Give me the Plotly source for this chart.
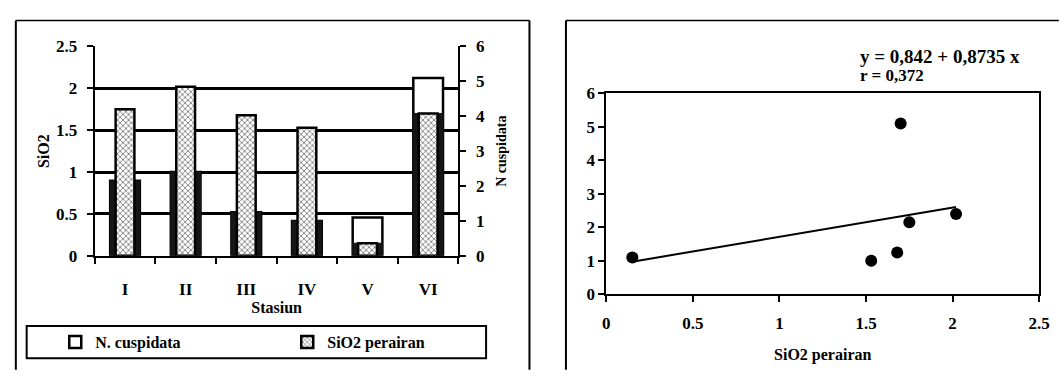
import numpy as np
import plotly.graph_objects as go

# ---------------- data ----------------
stations = ["I", "II", "III", "IV", "V", "VI"]
sio2 = [1.75, 2.02, 1.68, 1.53, 0.15, 1.70]          # SiO2 perairan (left axis)
n_cusp = [2.15, 2.40, 1.25, 1.00, 1.10, 5.10]        # N. cuspidata (right axis)
sio2_ticks = [0, 0.5, 1, 1.5, 2, 2.5]
sio2_ticklabels = ["0", "0.5", "1", "1.5", "2", "2.5"]
n_ticks = [0, 1, 2, 3, 4, 5, 6]
x2_ticks = [0, 0.5, 1, 1.5, 2, 2.5]
x2_ticklabels = ["0", "0.5", "1", "1.5", "2", "2.5"]
intercept = 0.842
slope = 0.8735
r_value = 0.372

SIO2_MAX = 2.5
N_MAX = 6

W, H = 1061, 374


def px(x):
    return x / W


def py(y):
    return 1 - y / H


FONT = dict(family="Liberation Serif", color="black", size=17, weight="bold")

# overlap zone where the N. cuspidata bar lies behind the SiO2 bar (dark in scan)
overlap = np.minimum(np.array(n_cusp), np.array(sio2) * N_MAX / SIO2_MAX)

fig = go.Figure()

fig.add_trace(go.Bar(
    x=stations, y=n_cusp, name="N. cuspidata", xaxis="x", yaxis="y",
    width=0.49, marker=dict(color="white", line=dict(color="black", width=2.5)),
))
fig.add_trace(go.Bar(
    x=stations, y=overlap, showlegend=False, xaxis="x", yaxis="y",
    width=0.49, marker=dict(color="#161616", line=dict(color="#161616", width=1)),
    hoverinfo="skip",
))
fig.add_trace(go.Bar(
    x=stations, y=sio2, name="SiO2 perairan", xaxis="x", yaxis="y2",
    width=0.31,
    marker=dict(color="white",
                pattern=dict(shape="x", fgcolor="black", bgcolor="white", size=4, solidity=0.4),
                line=dict(color="black", width=2.5)),
))

# scatter panel
fig.add_trace(go.Scatter(
    x=sio2, y=n_cusp, mode="markers", xaxis="x2", yaxis="y3", showlegend=False,
    marker=dict(color="black", size=12),
))
fit_x = np.array([min(sio2), max(sio2)])
fit_y = intercept + slope * fit_x
fig.add_trace(go.Scatter(
    x=fit_x, y=fit_y, mode="lines", xaxis="x2", yaxis="y3", showlegend=False,
    line=dict(color="black", width=2),
))

axis_common = dict(showline=True, linecolor="black", linewidth=2, ticks="outside",
                   tickcolor="black", tickwidth=2, ticklen=6, zeroline=False)

fig.update_layout(
    width=W, height=H, autosize=False,
    margin=dict(l=0, r=0, t=0, b=0),
    paper_bgcolor="white", plot_bgcolor="white",
    font=FONT,
    barmode="overlay",
    xaxis=dict(domain=[px(92), px(461)], anchor="y", type="category",
               range=[-0.5, 5.5], tickson="boundaries", showgrid=False,
               ticklabelstandoff=17,
               title=dict(text="Stasiun", standoff=0, font=dict(size=16)),
               **axis_common),
    yaxis=dict(domain=[py(260), py(39.5)], anchor="x", side="right",
               range=[0, N_MAX], tickvals=n_ticks, showgrid=False,
               ticklabelstandoff=6,
               title=dict(text="N cuspidata", standoff=12, font=dict(size=14)),
               **axis_common),
    yaxis2=dict(overlaying="y", side="left", anchor="x", range=[0, SIO2_MAX],
                tickvals=sio2_ticks, ticktext=sio2_ticklabels,
                showgrid=True, gridcolor="black", gridwidth=2.5,
                ticklabelstandoff=6,
                title=dict(text="SiO2", standoff=2, font=dict(size=16)),
                **axis_common),
    xaxis2=dict(domain=[px(611), px(1050)], anchor="y3", range=[0, 2.5],
                tickvals=x2_ticks, ticktext=x2_ticklabels, showgrid=False, mirror=True,
                ticklabelstandoff=6,
                title=dict(text="SiO2 perairan", standoff=17, font=dict(size=16)),
                **axis_common),
    yaxis3=dict(domain=[py(300.5), py(89)], anchor="x2", range=[0, N_MAX],
                tickvals=n_ticks, showgrid=False, mirror=True,
                **axis_common),
    legend=dict(orientation="h", x=px(52), y=py(351), xanchor="left", yanchor="middle",
                entrywidth=187, entrywidthmode="pixels", bgcolor="rgba(0,0,0,0)",
                font=dict(size=16), itemwidth=30),
    showlegend=True,
)

fmt = lambda v: f"{v}".replace(".", ",")
fig.add_annotation(x=px(866), y=py(50), xref="paper", yref="paper", xanchor="left",
                   yanchor="middle", showarrow=False,
                   text=f"y = {fmt(intercept)} + {fmt(slope)} x", font=dict(size=19))
fig.add_annotation(x=px(866), y=py(70), xref="paper", yref="paper", xanchor="left",
                   yanchor="middle", showarrow=False,
                   text=f"r = {fmt(r_value)}", font=dict(size=17))

# panel borders and legend frame
line = dict(color="black", width=2)
shapes = [
    dict(type="line", xref="paper", yref="paper", x0=px(12), x1=px(12), y0=py(12), y1=py(380), line=line),
    dict(type="line", xref="paper", yref="paper", x0=px(12), x1=px(533), y0=py(12), y1=py(12),
         line=dict(color="black", width=1.5)),
    dict(type="line", xref="paper", yref="paper", x0=px(533), x1=px(533), y0=py(12), y1=py(380), line=line),
    dict(type="line", xref="paper", yref="paper", x0=px(570), x1=px(570), y0=py(12), y1=py(380), line=line),
    dict(type="line", xref="paper", yref="paper", x0=px(570), x1=px(1070), y0=py(12), y1=py(12),
         line=dict(color="black", width=1.5)),
    dict(type="rect", xref="paper", yref="paper", x0=px(23), x1=px(489), y0=py(368), y1=py(334), line=line),
]
fig.update_layout(shapes=shapes)

fig.write_html("out.html")
